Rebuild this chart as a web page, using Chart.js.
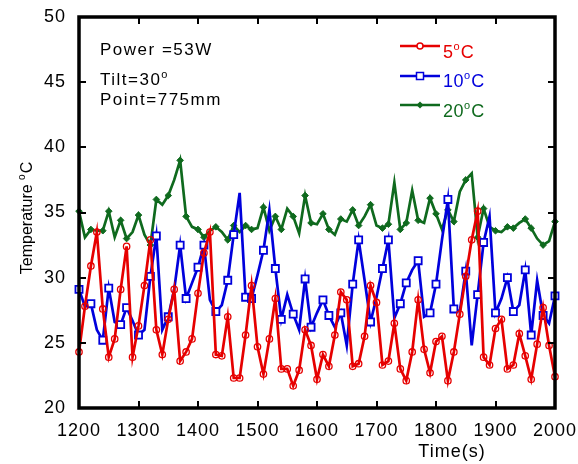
<!DOCTYPE html>
<html>
<head>
<meta charset="utf-8">
<script src="https://cdn.jsdelivr.net/npm/chart.js@4/dist/chart.umd.min.js"></script>
<style>
html,body{margin:0;padding:0;background:#fff;}
#wrap{width:578px;height:464px;position:relative;}
</style>
</head>
<body>
<div id="wrap"><canvas id="c" width="578" height="464"></canvas></div>
<script>
// ---- data ----
const times = [1200,1210,1220,1230,1240,1250,1260,1270,1280,1290,
  1300,1310,1320,1330,1340,1350,1360,1370,1380,1390,
  1400,1410,1420,1430,1440,1450,1460,1470,1480,1490,
  1500,1510,1520,1530,1540,1550,1560,1570,1580,1590,
  1600,1610,1620,1630,1640,1650,1660,1670,1680,1690,
  1700,1710,1720,1730,1740,1750,1760,1770,1780,1790,
  1800,1810,1820,1830,1840,1850,1860,1870,1880,1890,
  1900,1910,1920,1930,1940,1950,1960,1970,1980,1990,2000];

const temp5 = [24.3,27.8,30.9,33.5,27.6,23.9,25.3,29.1,32.4,23.9,
  26.3,29.4,32.9,26.0,24.1,26.8,29.1,23.6,24.3,25.3,
  28.8,31.9,33.5,24.1,24.0,27.0,22.3,22.3,25.6,29.4,
  24.7,22.6,25.3,28.4,23.0,23.0,21.7,22.9,26.0,24.8,
  22.2,24.1,23.2,25.6,28.9,28.3,23.2,23.4,25.5,29.4,
  28.1,23.3,23.6,26.5,23.0,22.1,24.3,28.3,24.5,22.7,
  25.1,25.5,22.1,24.3,27.2,30.1,32.9,35.1,23.9,23.3,
  26.1,26.8,23.0,23.3,25.7,24.0,22.2,24.9,27.7,24.8,22.4];

const temp10 = [29.1,27.8,28.0,26.0,25.2,29.2,26.6,26.4,27.7,26.7,
  25.6,26.0,30.1,33.2,26.0,27.0,29.1,32.5,28.4,29.6,
  30.8,32.5,28.3,27.4,27.9,29.8,33.3,36.5,28.5,28.4,
  30.2,32.1,35.2,30.7,26.8,28.7,27.2,26.0,29.9,26.2,
  27.3,28.3,27.1,26.2,27.3,24.8,29.5,32.9,29.8,26.6,
  28.5,30.7,32.9,26.9,28.0,29.6,30.6,31.3,27.0,27.3,
  29.5,32.9,36.0,27.6,27.4,30.5,24.8,28.7,32.7,34.7,
  27.3,28.4,30.0,27.4,27.9,30.6,25.6,29.8,27.1,26.5,28.6];

const temp20 = [35.1,33.1,33.7,33.6,33.6,35.1,33.1,34.4,33.0,33.5,
  34.8,33.3,32.5,36.0,35.6,36.3,37.5,39.0,34.7,33.9,
  33.7,33.1,33.6,33.9,33.5,32.9,34.0,33.5,34.0,33.7,
  33.8,35.4,33.6,34.7,33.7,35.3,34.7,33.4,36.3,34.2,
  34.1,34.9,33.7,33.3,34.5,34.3,35.2,34.0,34.7,35.6,
  34.0,33.8,34.1,37.3,33.7,34.2,36.7,34.4,34.2,36.1,
  34.9,33.7,35.2,34.3,36.6,37.5,38.0,33.1,35.3,33.9,
  33.6,33.5,33.9,33.8,34.2,34.5,33.8,33.0,32.5,32.8,34.3];

const xTicks = [1200,1300,1400,1500,1600,1700,1800,1900,2000];
const yTicks = [20,25,30,35,40,45,50];
const seriesNames = ['5', '10', '20'];

// style: indices where markers are shown on the 10 and 20 series
const markIdx = [0,2,4,5,7,8,10,12,13,15,17,18,20,21,23,25,26,28,29,31,33,34,36,38,39,
  41,42,44,46,47,49,51,52,54,55,57,59,60,62,63,65,67,68,70,72,73,75,76,78,80];
const markSet = new Set(markIdx);

const RED = '#e60000', BLUE = '#0000dc', GREEN = '#0f6a1e';

function pts(arr){ return arr.map((v,i)=>({x:times[i], y:v})); }

const FONT = '"Liberation Sans", Arial, sans-serif';

function drawRich(ctx, parts, x, y, size, color, spacing){
  ctx.fillStyle = color;
  ctx.textBaseline = 'alphabetic';
  ctx.textAlign = 'left';
  let cx = x;
  for (const p of parts){
    if (p.sup){
      ctx.letterSpacing = '0px';
      ctx.font = Math.round(size*0.62) + 'px ' + FONT;
      ctx.fillText(p.t, cx, y - size*0.42);
      cx += ctx.measureText(p.t).width + 1;
    } else {
      ctx.letterSpacing = spacing + 'px';
      ctx.font = size + 'px ' + FONT;
      ctx.fillText(p.t, cx, y);
      cx += ctx.measureText(p.t).width;
    }
  }
  ctx.letterSpacing = '0px';
  return cx - x;
}

const framePlugin = {
  id: 'frame',
  beforeDraw(chart){ chart.ctx.letterSpacing = '1px'; },
  afterDatasetsDraw(chart){
    const ctx = chart.ctx;
    const {left,right,top,bottom} = chart.chartArea;
    const xs = chart.scales.x, ys = chart.scales.y;
    ctx.save();
    ctx.strokeStyle = '#000';
    ctx.lineWidth = 2;
    ctx.beginPath();
    xTicks.forEach(v => {
      const px = Math.round(xs.getPixelForValue(v));
      ctx.moveTo(px, bottom); ctx.lineTo(px, bottom-7);
      ctx.moveTo(px, top); ctx.lineTo(px, top+7);
    });
    yTicks.forEach(v => {
      const py = Math.round(ys.getPixelForValue(v));
      ctx.moveTo(left, py); ctx.lineTo(left+7, py);
      ctx.moveTo(right, py); ctx.lineTo(right-7, py);
    });
    ctx.stroke();
    ctx.lineWidth = 3.5;
    ctx.strokeRect(left, top, right-left, bottom-top);
    ctx.restore();
  },
  afterDraw(chart){
    const ctx = chart.ctx;
    ctx.save();
    // annotations
    drawRich(ctx, [{t:'Power =53W'}], 100, 55, 17, '#000', 1.5);
    drawRich(ctx, [{t:'Tilt=30'},{t:'o',sup:true}], 100, 85, 17, '#000', 1.5);
    drawRich(ctx, [{t:'Point=775mm'}], 100, 105, 17, '#000', 1.5);
    // legend
    const leg = [
      {name: seriesNames[0], color: RED, ly: 46, ty: 58, style:'circle'},
      {name: seriesNames[1], color: BLUE, ly: 76, ty: 87, style:'rect'},
      {name: seriesNames[2], color: GREEN, ly: 105, ty: 117, style:'diamond'}
    ];
    leg.forEach(l => {
      ctx.strokeStyle = l.color; ctx.lineWidth = 2.5;
      ctx.beginPath(); ctx.moveTo(400, l.ly); ctx.lineTo(440, l.ly); ctx.stroke();
      const cx = 420;
      ctx.lineWidth = 1.5;
      if (l.style === 'circle'){
        ctx.fillStyle = '#fff';
        ctx.beginPath(); ctx.arc(cx, l.ly, 3, 0, Math.PI*2); ctx.fill(); ctx.stroke();
      } else if (l.style === 'rect'){
        ctx.fillStyle = '#fff';
        ctx.fillRect(cx-3.5, l.ly-3.5, 7, 7); ctx.strokeRect(cx-3.5, l.ly-3.5, 7, 7);
      } else {
        ctx.fillStyle = l.color;
        ctx.beginPath(); ctx.moveTo(cx, l.ly-3.5); ctx.lineTo(cx+3.5, l.ly); ctx.lineTo(cx, l.ly+3.5); ctx.lineTo(cx-3.5, l.ly); ctx.closePath(); ctx.fill();
      }
      drawRich(ctx, [{t:l.name},{t:'o',sup:true},{t:'C'}], 443, l.ty, 18, l.color, 0.5);
    });
    // x title
    ctx.font = '18px ' + FONT;
    ctx.letterSpacing = '1px';
    ctx.fillStyle = '#000';
    ctx.textAlign = 'center';
    ctx.textBaseline = 'alphabetic';
    ctx.fillText('Time(s)', 452, 457);
    // y title
    ctx.save();
    ctx.translate(32, 218);
    ctx.rotate(-Math.PI/2);
    ctx.letterSpacing = '0px';
    ctx.font = '16px ' + FONT;
    const w1 = ctx.measureText('Temperature ').width;
    ctx.font = '10px ' + FONT;
    const w2 = ctx.measureText('o').width;
    ctx.font = '16px ' + FONT;
    const w3 = ctx.measureText('C').width;
    const total = w1 + w2 + 1 + w3;
    drawRich(ctx, [{t:'Temperature '},{t:'o',sup:true},{t:'C'}], -total/2, 0, 16, '#000', 0);
    ctx.restore();
    ctx.restore();
    ctx.letterSpacing = '0px';
  }
};

new Chart(document.getElementById('c'), {
  type: 'line',
  data: {
    datasets: [
      {label: seriesNames[0], data: pts(temp5), borderColor: RED, borderWidth: 2.7,
       pointStyle: 'circle', pointRadius: 3.2, pointBorderWidth: 1.3,
       pointBorderColor: RED, pointBackgroundColor: 'rgba(255,255,255,0)', clip: false, order: 1},
      {label: seriesNames[1], data: pts(temp10), borderColor: BLUE, borderWidth: 2.7,
       pointStyle: 'rect', pointRadius: ctx => markSet.has(ctx.dataIndex) ? 5 : 0,
       pointBorderWidth: 1.8, pointBorderColor: BLUE, pointBackgroundColor: '#fff', clip: false, order: 2},
      {label: seriesNames[2], data: pts(temp20), borderColor: GREEN, borderWidth: 2.7,
       pointStyle: 'rectRot', pointRadius: ctx => markSet.has(ctx.dataIndex) ? 3.3 : 0,
       pointBorderWidth: 1, pointBorderColor: GREEN, pointBackgroundColor: GREEN, clip: false, order: 3}
    ]
  },
  options: {
    responsive: false,
    animation: false,
    devicePixelRatio: 1,
    layout: {padding: {top: 17, right: 23, left: 0, bottom: 0}},
    plugins: {legend: {display: false}, tooltip: {enabled: false}},
    elements: {line: {tension: 0}, point: {hoverRadius: 0}},
    scales: {
      x: {
        type: 'linear', min: 1200, max: 2000,
        afterFit: s => { s.height = 56; s.paddingLeft = 0; s.paddingRight = 0; },
        afterBuildTicks: s => { s.ticks = xTicks.map(v => ({value: v})); },
        grid: {display: false, drawTicks: false},
        border: {display: false},
        ticks: {color: '#000', font: {size: 18, family: FONT}, padding: 12, maxRotation: 0, autoSkip: false,
                callback: v => String(v)}
      },
      y: {
        type: 'linear', min: 20, max: 50,
        afterFit: s => { s.width = 79; s.paddingTop = 0; s.paddingBottom = 0; },
        afterBuildTicks: s => { s.ticks = yTicks.map(v => ({value: v})); },
        grid: {display: false, drawTicks: false},
        border: {display: false},
        ticks: {color: '#000', font: {size: 18, family: FONT}, padding: 13, callback: v => String(v)}
      }
    }
  },
  plugins: [framePlugin]
});
</script>
</body>
</html>
